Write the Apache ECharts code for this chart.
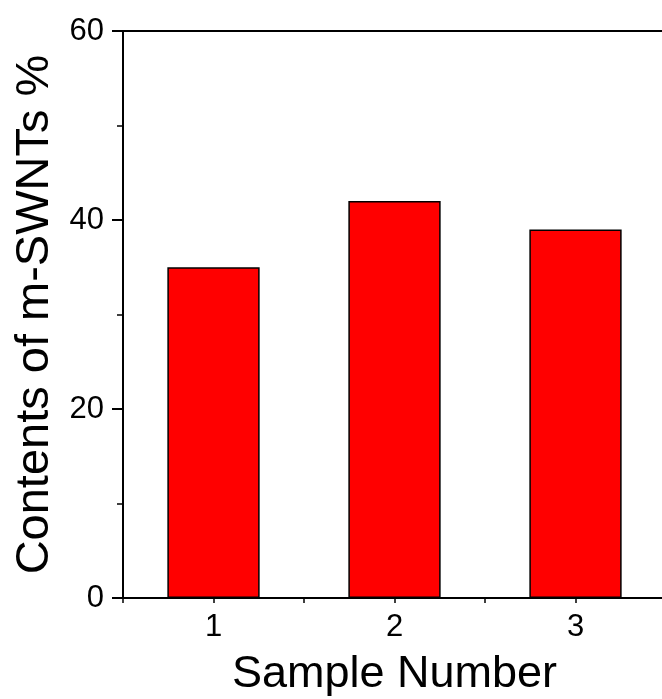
<!DOCTYPE html>
<html>
<head>
<meta charset="utf-8">
<script src="https://cdn.jsdelivr.net/npm/echarts@6/dist/echarts.min.js"></script>
<style>
  html, body { margin: 0; padding: 0; background: #fff; }
  #chart { width: 662px; height: 699px; }
</style>
</head>
<body>
<div id="chart"></div>
<script>
// chart values
var samples = ['1', '2', '3']
var contents = [35, 42, 39]
var yTicks = [0, 20, 40, 60]

var font = '"Liberation Sans", Arial, sans-serif'

var myChart = echarts.init(document.getElementById('chart'))
var option = {
  animation: false,
  grid: { left: 123, top: 31, width: 543, bottom: 101, outerBoundsMode: 'none' },
  xAxis: [
    {
      type: 'category',
      data: samples,
      position: 'bottom',
      boundaryGap: true,
      name: 'Sample Number',
      nameLocation: 'middle',
      nameGap: 54,
      nameTextStyle: { fontFamily: font, fontSize: 45, color: '#000' },
      axisLine: { lineStyle: { color: '#000', width: 2 } },
      axisTick: { alignWithLabel: true, length: 11, lineStyle: { color: '#000', width: 2 } },
      axisLabel: { fontFamily: font, fontSize: 31, color: '#000', margin: 14 },
      splitLine: { show: false }
    },
    {
      // half-step minor ticks under the bars
      type: 'value',
      position: 'bottom',
      min: 0.5,
      max: 3.5,
      interval: 0.5,
      axisLine: { show: false },
      axisTick: { length: 5, lineStyle: { color: '#000', width: 1.5 } },
      axisLabel: { show: false },
      splitLine: { show: false }
    },
    {
      type: 'category',
      data: samples,
      position: 'top',
      axisLine: { lineStyle: { color: '#000', width: 2 } },
      axisTick: { alignWithLabel: true, inside: true, length: 3, lineStyle: { color: '#000', width: 1.5 } },
      axisLabel: { show: false },
      splitLine: { show: false }
    }
  ],
  yAxis: {
    type: 'value',
    min: yTicks[0],
    max: yTicks[yTicks.length - 1],
    interval: 20,
    name: 'Contents of m-SWNTs %',
    nameLocation: 'middle',
    nameGap: 64,
    nameTextStyle: { fontFamily: font, fontSize: 47, color: '#000' },
    axisLine: { show: true, lineStyle: { color: '#000', width: 2 } },
    axisTick: { show: true, length: 11, lineStyle: { color: '#000', width: 2 } },
    minorTick: { show: true, splitNumber: 2, length: 6, lineStyle: { color: '#000', width: 1.5 } },
    axisLabel: { fontFamily: font, fontSize: 31, color: '#000', margin: 19 },
    splitLine: { show: false }
  },
  series: [{
    type: 'bar',
    xAxisIndex: 0,
    data: contents,
    barWidth: '51%',
    itemStyle: { color: '#ff0000', borderColor: '#000', borderWidth: 1.5 }
  }]
}
myChart.setOption(option)
</script>
</body>
</html>
